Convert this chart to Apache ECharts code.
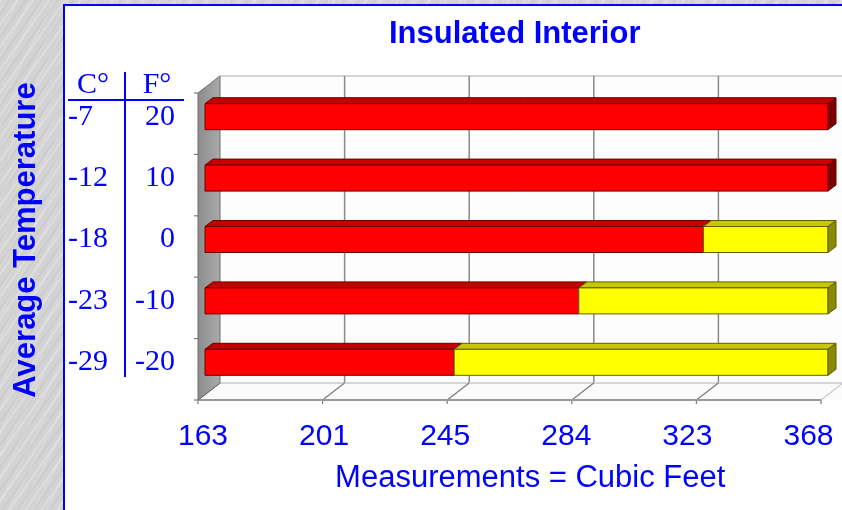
<!DOCTYPE html>
<html>
<head>
<meta charset="utf-8">
<script src="https://cdn.jsdelivr.net/npm/echarts@6/dist/echarts.min.js"></script>
<style>
html,body{margin:0;padding:0;}
body{width:842px;height:510px;overflow:hidden;
background-color:#d3d3d3;
background-image:
 repeating-linear-gradient(-55deg, rgba(255,255,255,0) 0px, rgba(255,255,255,0) 5px, rgba(255,255,255,0.22) 5px, rgba(255,255,255,0.22) 7px, rgba(0,0,0,0) 7px, rgba(0,0,0,0) 11px, rgba(0,0,0,0.03) 11px, rgba(0,0,0,0.03) 13px),
 repeating-linear-gradient(-62deg, rgba(255,255,255,0) 0px, rgba(255,255,255,0) 9px, rgba(255,255,255,0.12) 9px, rgba(255,255,255,0.12) 11px);}
#chart{width:842px;height:510px;}
</style>
</head>
<body>
<div id="chart"></div>
<script>
// ---- data ----
const tickLabels = ['163', '201', '245', '284', '323', '368'];
const tempC = ['-7', '-12', '-18', '-23', '-29'];
const tempF = ['20', '10', '0', '-10', '-20'];
const tableHeaders = ['C°', 'F°'];
const redEnd = [368, 368, 323, 284, 245];
const yellowEnd = [368, 368, 368, 368, 368];
const chartTitle = 'Insulated Interior';
const yTitle = 'Average Temperature';
const xTitle = 'Measurements = Cubic Feet';

// ---- helpers ----
const BLUE = '#0000ff';
const SANS = '"Liberation Sans", Arial, sans-serif';
const SERIF = '"Liberation Serif", "Times New Roman", serif';
const pos = v => tickLabels.indexOf(String(v));

const redData = redEnd.map((v, i) => [0, i, pos(v), yellowEnd[i] === v ? 1 : 0]);
const yellowData = yellowEnd.map((v, i) => [pos(redEnd[i]), i, pos(v), 1]).filter(d => d[2] > d[0]);

const FRONT = [-7, 7], BACK = [15, -10];

function wallsRender(params, api) {
  const c0 = api.coord([0, 0]);
  const sz = api.size([1, 1]);
  const bandY = sz[1];
  const x0 = c0[0];
  const x5 = api.coord([5, 0])[0];
  const yTop = c0[1] - bandY / 2;
  const yBot = yTop + 5 * bandY;
  const ch = [];
  const L = (x1, y1, x2, y2, c, w) => ({type: 'line', shape: {x1, y1, x2, y2}, style: {stroke: c, lineWidth: w || 1}});
  // back wall
  ch.push({type: 'rect', shape: {x: x0 + BACK[0], y: yTop + BACK[1], width: x5 - x0 + 30, height: yBot - yTop}, style: {fill: '#fdfdfd'}});
  ch.push(L(x0 + BACK[0], yTop + BACK[1], x5 + BACK[0] + 20, yTop + BACK[1], '#c4c4c4', 1.5));
  for (let i = 1; i <= 4; i++) {
    const xi = api.coord([i, 0])[0] + BACK[0];
    ch.push(L(xi, yTop + BACK[1], xi, yBot + BACK[1], '#8a8a8a', 1.5));
  }
  // floor
  ch.push({type: 'polygon', shape: {points: [[x0 + BACK[0], yBot + BACK[1]], [x5 + BACK[0] + 20, yBot + BACK[1]], [x5 + FRONT[0] + 20, yBot + FRONT[1]], [x0 + FRONT[0], yBot + FRONT[1]]]}, style: {fill: '#fbfbfb'}});
  ch.push(L(x0 + BACK[0], yBot + BACK[1], x5 + BACK[0] + 20, yBot + BACK[1], '#c8c8c8', 1.5));
  for (let i = 0; i <= 5; i++) {
    const xi = api.coord([i, 0])[0];
    ch.push(L(xi + BACK[0], yBot + BACK[1], xi + FRONT[0], yBot + FRONT[1], i === 5 ? '#c8c8c8' : '#7a7a7a', 1.2));
    ch.push(L(xi + FRONT[0], yBot + FRONT[1], xi + FRONT[0], yBot + FRONT[1] + 4, '#7a7a7a', 1.2));
  }
  ch.push(L(x0 + FRONT[0], yBot + FRONT[1], x5 + FRONT[0], yBot + FRONT[1], '#9a9a9a', 2));
  // side wall
  ch.push({type: 'polygon', shape: {points: [[x0 + FRONT[0], yTop + FRONT[1]], [x0 + BACK[0], yTop + BACK[1]], [x0 + BACK[0], yBot + BACK[1]], [x0 + FRONT[0], yBot + FRONT[1]]]},
    style: {fill: new echarts.graphic.LinearGradient(0, 0, 1, 0, [{offset: 0, color: '#8c8c8c'}, {offset: 1, color: '#aaaaaa'}]), stroke: '#6e6e6e', lineWidth: 1}});
  for (let k = 0; k <= 5; k++) {
    const yk = yTop + k * bandY + FRONT[1];
    ch.push(L(x0 + FRONT[0] - 4, yk, x0 + FRONT[0], yk, '#7a7a7a', 1.2));
  }
  return {type: 'group', children: ch};
}

function barRender(front, topC, endC, stroke) {
  return function (params, api) {
    const s = api.value(0), r = api.value(1), e = api.value(2), cap = api.value(3);
    const a = api.coord([s, r]), b = api.coord([e, r]);
    const h = 26, dx = 8, dy = -6;
    const top = a[1] - h / 2, bot = a[1] + h / 2;
    const ch = [];
    ch.push({type: 'polygon', shape: {points: [[a[0], top], [b[0], top], [b[0] + dx, top + dy], [a[0] + dx, top + dy]]}, style: {fill: topC, stroke: stroke, lineWidth: 1}});
    ch.push({type: 'rect', shape: {x: a[0], y: top, width: b[0] - a[0], height: h}, style: {fill: front, stroke: stroke, lineWidth: 1}});
    if (cap) {
      ch.push({type: 'polygon', shape: {points: [[b[0], top], [b[0] + dx, top + dy], [b[0] + dx, bot + dy], [b[0], bot]]}, style: {fill: endC, stroke: stroke, lineWidth: 1}});
    }
    return {type: 'group', children: ch};
  };
}

const chart = echarts.init(document.getElementById('chart'), null, {renderer: 'canvas'});
chart.setOption({
  backgroundColor: 'transparent',
  animation: false,
  title: {text: chartTitle, left: 389, top: 19, padding: 0,
    textStyle: {color: BLUE, fontFamily: SANS, fontWeight: 'bold', fontSize: 31}},
  grid: [
    {left: 205, top: 86, width: 623, height: 307},
    {left: 203, top: 86, width: 605.5, height: 314}
  ],
  xAxis: [
    {type: 'value', gridIndex: 0, min: 0, max: 5, interval: 1, show: false},
    {type: 'value', gridIndex: 1, min: 0, max: 5, interval: 1,
      axisLine: {show: false}, axisTick: {show: false}, splitLine: {show: false},
      axisLabel: {margin: 22, color: BLUE, fontFamily: SANS, fontSize: 30, formatter: v => tickLabels[v]},
      name: xTitle, nameLocation: 'middle', nameGap: 63,
      nameTextStyle: {color: BLUE, fontFamily: SANS, fontSize: 31, padding: [0, 0, 0, 49]}}
  ],
  yAxis: [
    {type: 'category', gridIndex: 0, inverse: true, data: tempC.map((c, i) => i),
      axisLine: {show: false}, axisTick: {show: false}, splitLine: {show: false},
      axisLabel: {margin: 30, color: BLUE, fontFamily: SANS,
        formatter: (v, i) => '{c|' + tempC[i] + '}{f|' + tempF[i] + '}',
        rich: {
          c: {width: 56, align: 'left', color: BLUE, fontFamily: SERIF, fontSize: 30},
          f: {width: 51, align: 'right', color: BLUE, fontFamily: SERIF, fontSize: 30}
        }}},
    {type: 'value', gridIndex: 1, show: false}
  ],
  graphic: [
    {type: 'rect', z: -100, shape: {x: 64, y: 5, width: 800, height: 600}, style: {fill: '#ffffff', stroke: BLUE, lineWidth: 2}},
    {type: 'text', z: 10, x: 26, y: 240, rotation: Math.PI / 2,
      style: {text: yTitle, fill: BLUE, font: 'bold 31px ' + SANS, align: 'center', verticalAlign: 'middle'}},
    {type: 'text', z: 10, x: 93, y: 85, style: {text: tableHeaders[0], fill: BLUE, font: '30px ' + SERIF, align: 'center', verticalAlign: 'middle'}},
    {type: 'text', z: 10, x: 157, y: 85, style: {text: tableHeaders[1], fill: BLUE, font: '30px ' + SERIF, align: 'center', verticalAlign: 'middle'}},
    {type: 'line', z: 10, shape: {x1: 68, y1: 100, x2: 184, y2: 100}, style: {stroke: BLUE, lineWidth: 2}},
    {type: 'line', z: 10, shape: {x1: 125, y1: 72, x2: 125, y2: 377}, style: {stroke: BLUE, lineWidth: 2}}
  ],
  series: [
    {type: 'custom', xAxisIndex: 0, yAxisIndex: 0, z: 1, silent: true, renderItem: wallsRender, data: [[0, 0]], encode: {x: 0, y: 1}},
    {type: 'custom', name: 'red', xAxisIndex: 0, yAxisIndex: 0, z: 3, renderItem: barRender('#ff0000', '#c40000', '#7d0000', '#6a0000'), data: redData, encode: {x: [0, 2], y: 1}},
    {type: 'custom', name: 'yellow', xAxisIndex: 0, yAxisIndex: 0, z: 4, renderItem: barRender('#ffff00', '#c8c800', '#8a8a00', '#5e5e00'), data: yellowData, encode: {x: [0, 2], y: 1}}
  ]
});
</script>
</body>
</html>
